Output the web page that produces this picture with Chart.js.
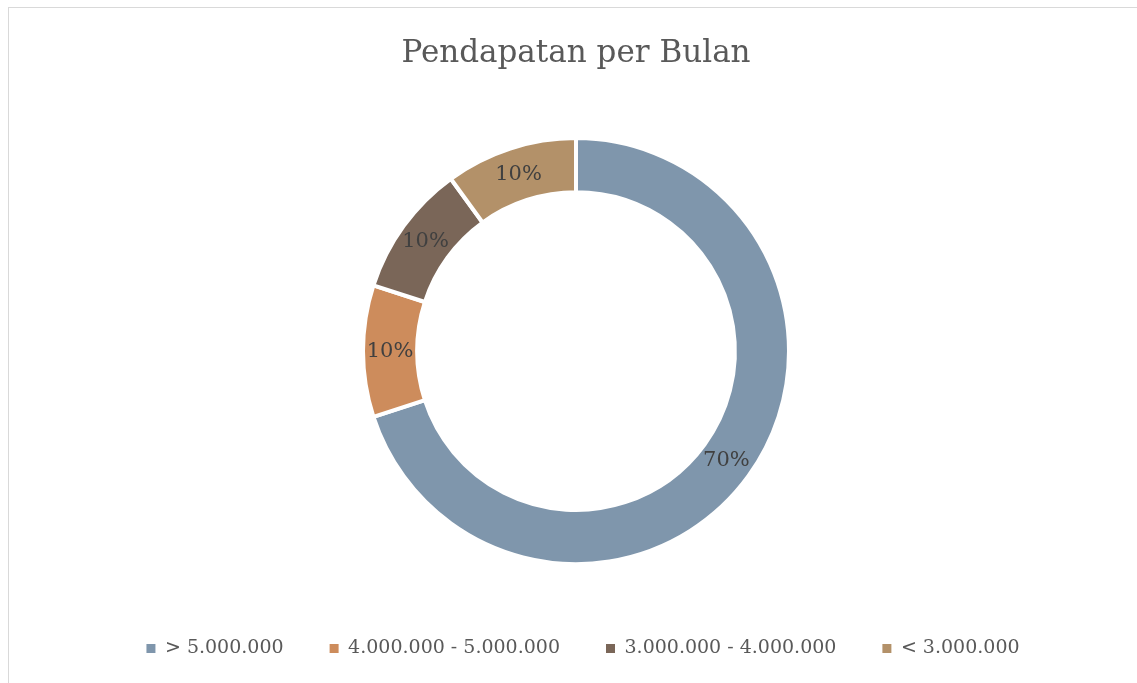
<!DOCTYPE html>
<html>
<head>
<meta charset="utf-8">
<script src="https://cdn.jsdelivr.net/npm/chart.js@4/dist/chart.umd.min.js"></script>
<style>
  html, body { margin: 0; padding: 0; background: #ffffff; overflow: hidden; }
  #frame { position: absolute; left: 8px; top: 7px; width: 1200px; height: 700px;
           border-top: 1px solid #d9d9d9; border-left: 1px solid #d9d9d9; }
  #wrap { position: absolute; left: 0; top: 0; width: 1137px; height: 683px; }
</style>
</head>
<body>
<div id="frame"></div>
<div id="wrap"><canvas id="c" width="1137" height="683"></canvas></div>
<script>
const titleText = 'Pendapatan per Bulan';
const categories = ['> 5.000.000', '4.000.000 - 5.000.000', '3.000.000 - 4.000.000', '< 3.000.000'];
const percentages = [70, 10, 10, 10];
const sliceColors = ['#7f96ac', '#cd8c5c', '#7a6658', '#b39169'];

const labelPlugin = {
  id: 'sliceLabels',
  afterLayout(chart) {
    if (chart.legend) { chart.legend.left += 7; chart.legend.right += 7; }
  },
  afterDatasetsDraw(chart) {
    const ctx = chart.ctx;
    const meta = chart.getDatasetMeta(0);
    ctx.save();
    ctx.font = '21px "DejaVu Serif"';
    ctx.fillStyle = '#404040';
    ctx.textAlign = 'center';
    ctx.textBaseline = 'middle';
    meta.data.forEach((arc, i) => {
      const p = arc.tooltipPosition();
      ctx.fillText(percentages[i] + '%', p.x, p.y);
    });
    ctx.restore();
  }
};

new Chart(document.getElementById('c'), {
  type: 'doughnut',
  data: {
    labels: categories,
    datasets: [{
      data: percentages,
      backgroundColor: sliceColors,
      borderColor: '#ffffff',
      borderWidth: 4
    }]
  },
  options: {
    responsive: false,
    animation: false,
    events: [],
    radius: 213,
    cutout: '74.6%',
    layout: { padding: { left: 15, right: 0, top: 0, bottom: 15 } },
    plugins: {
      title: {
        display: true,
        text: titleText,
        color: '#595959',
        font: { family: 'DejaVu Serif', size: 31, weight: 'normal', lineHeight: 1.2 },
        padding: { top: 35, bottom: 37 }
      },
      legend: {
        position: 'bottom',
        labels: {
          color: '#595959',
          font: { family: 'DejaVu Serif', size: 19 },
          boxWidth: 9,
          boxHeight: 9,
          padding: 46,
          generateLabels(chart) {
            const items = Chart.overrides.doughnut.plugins.legend.labels.generateLabels(chart);
            items.forEach(it => { it.lineWidth = 0; it.strokeStyle = 'rgba(0,0,0,0)'; });
            return items;
          }
        }
      },
      tooltip: { enabled: false }
    }
  },
  plugins: [labelPlugin]
});
</script>
</body>
</html>
